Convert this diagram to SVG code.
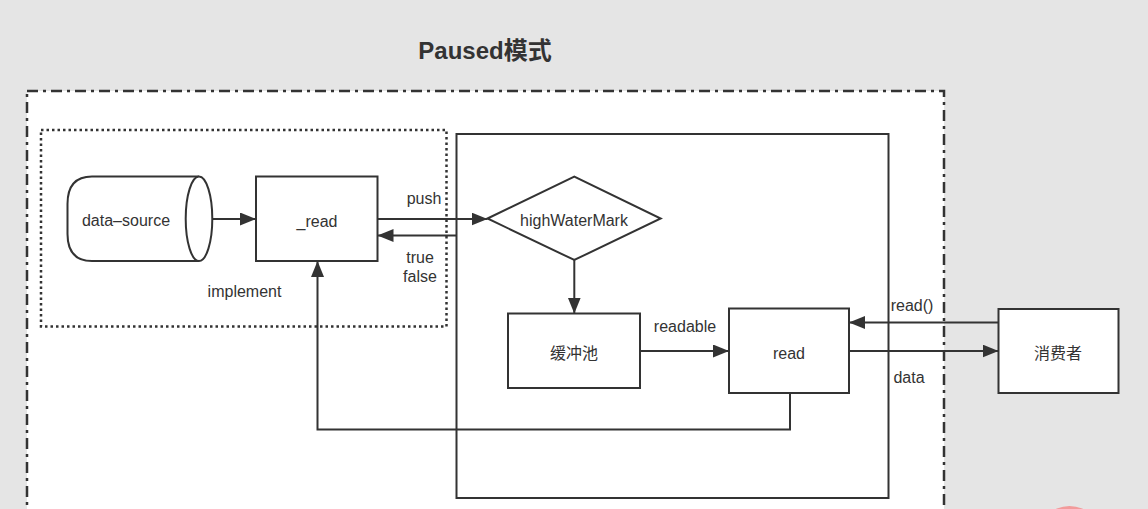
<svg xmlns="http://www.w3.org/2000/svg" width="1148" height="509" viewBox="0 0 1148 509">
<style>
  .box { fill: #ffffff; stroke: #333333; stroke-width: 2; }
  .lbl { font-family: "Liberation Sans", "Noto Sans CJK SC", sans-serif; font-size: 16px; fill: #333333; text-anchor: middle; }
  .conn { fill: none; stroke: #333333; stroke-width: 2; }
  .arr { marker-end: url(#ah); }
</style>
<defs>
  <marker id="ah" markerUnits="userSpaceOnUse" markerWidth="17" markerHeight="13" refX="16" refY="6.5" orient="auto">
    <path d="M0,0 L16,6.5 L0,13 z" fill="#333333"/>
  </marker>
</defs>
<rect x="0" y="0" width="1148" height="509" fill="#e5e5e5"/>
<g id="title">
  <text x="485" y="59" font-family="Liberation Sans, Noto Sans CJK SC, sans-serif" font-size="24" font-weight="bold" fill="#333333" text-anchor="middle">Paused模式</text>
</g>
<g id="outer-region">
  <rect x="27" y="91" width="917" height="450" fill="#ffffff" stroke="#333333" stroke-width="2.5" stroke-dasharray="11 5 3 5"/>
</g>
<g id="source-region">
  <rect x="41" y="130" width="405.5" height="196.5" fill="#ffffff" stroke="#333333" stroke-width="2.5" stroke-dasharray="2.5 3"/>
</g>
<g id="stream-region">
  <rect x="456.5" y="134" width="432" height="364" class="box"/>
</g>
<g id="data-source">
  <path d="M199,176.5 H92 Q67.5,176.5 67.5,204 V234 Q67.5,261 92,261 H199" class="box"/>
  <ellipse cx="199" cy="218.75" rx="13.3" ry="42.25" class="box"/>
  <text x="126" y="226" class="lbl">data–source</text>
</g>
<g id="_read">
  <rect x="256" y="176.5" width="121.5" height="84.5" class="box"/>
  <text x="317" y="226.5" class="lbl">_read</text>
</g>
<g id="highWaterMark">
  <polygon points="487.5,218.5 574.3,176.5 660.7,218.5 574.3,260" class="box"/>
  <text x="574" y="226" class="lbl">highWaterMark</text>
</g>
<g id="buffer">
  <rect x="508" y="313.5" width="132" height="74.5" class="box"/>
  <text x="574" y="358.5" class="lbl">缓冲池</text>
</g>
<g id="read">
  <rect x="729" y="308.5" width="120" height="84.5" class="box"/>
  <text x="789" y="358.5" class="lbl">read</text>
</g>
<g id="consumer">
  <rect x="998.5" y="309" width="120" height="84" class="box"/>
  <text x="1058" y="359" class="lbl">消费者</text>
</g>
<g id="connectors">
  <path d="M212.5,219 H256" class="conn arr"/>
  <path d="M377.5,219 H487.5" class="conn arr"/>
  <path d="M456.5,235.5 H377.5" class="conn arr"/>
  <path d="M574.3,260 V313.5" class="conn arr"/>
  <path d="M640,351 H729" class="conn arr"/>
  <path d="M998.5,322.5 H849" class="conn arr"/>
  <path d="M849,351 H998.5" class="conn arr"/>
  <path d="M790,393 V429.5 H317.5 V261" class="conn arr"/>
  <text x="424" y="204" class="lbl">push</text>
  <text x="420" y="263" class="lbl">true</text>
  <text x="420" y="282" class="lbl">false</text>
  <text x="244.5" y="297" class="lbl">implement</text>
  <text x="685" y="331.5" class="lbl">readable</text>
  <text x="912" y="311" class="lbl">read()</text>
  <text x="909" y="383" class="lbl">data</text>
</g>
<circle cx="1069.5" cy="539" r="33" fill="#f29b9b"/>
</svg>
